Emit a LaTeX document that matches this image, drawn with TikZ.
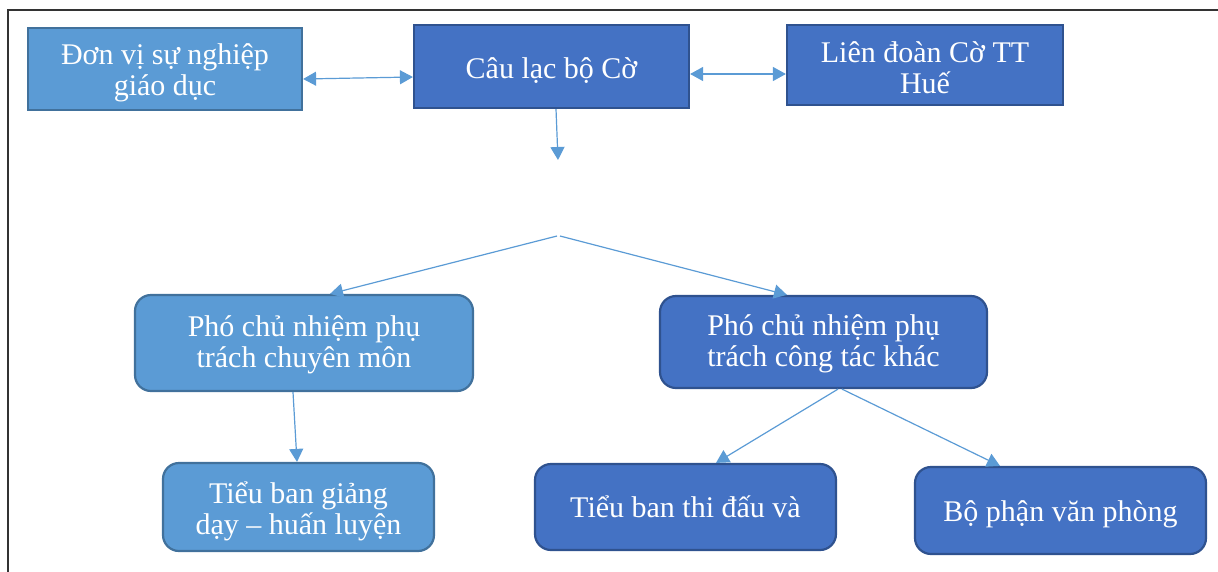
\documentclass[tikz,border=0pt]{standalone}
\usepackage{fontspec}
\setmainfont{Liberation Serif}
\usetikzlibrary{arrows.meta,calc}
\definecolor{lfill}{HTML}{5B9BD5}
\definecolor{lline}{HTML}{41719C}
\definecolor{dfill}{HTML}{4472C4}
\definecolor{dline}{HTML}{2F528F}
\definecolor{conncol}{HTML}{5B9BD5}
\definecolor{framecol}{HTML}{333333}
\tikzset{
  boxbase/.style={line width=2.2pt, inner sep=0pt},
  lbox/.style={boxbase, fill=lfill, draw=lline},
  dbox/.style={boxbase, fill=dfill, draw=dline},
  rbox/.style={rounded corners=16pt},
  txt/.style={text=white, align=center, inner sep=0pt, font=\fontsize{30}{31}\selectfont},
  conn/.style={draw=conncol, line width=1.2pt, -{Triangle[length=13pt,width=14pt]}},
  dconn/.style={draw=conncol, line width=1.2pt, {Triangle[length=13pt,width=14pt]}-{Triangle[length=13pt,width=14pt]}},
}
\begin{document}
\begin{tikzpicture}[x=1pt,y=-1pt]
\useasboundingbox (0,0) rectangle (1218,571);
\draw[framecol, line width=2pt] (8,575) -- (8,10) -- (1222,10);

\node[lbox, minimum width=274pt, minimum height=82pt] (a) at (165,69) {};
\node[txt] (a-t) at ($(a.center)+(0,4)$) {Đơn vị sự nghiệp\\giáo dục};
\node[dbox, minimum width=275pt, minimum height=83pt] (b) at (551.5,66.5) {};
\node[txt] (b-t) at ($(b.center)+(0,4)$) {Câu lạc bộ Cờ};
\node[dbox, minimum width=276pt, minimum height=80pt] (c) at (925,65) {};
\node[txt] (c-t) at ($(c.center)+(0,3)$) {Liên đoàn Cờ TT\\Huế};

\node[lbox, rbox, minimum width=338pt, minimum height=96pt] (p1) at (304,343) {};
\node[txt] (p1-t) at ($(p1.center)+(0,2)$) {Phó chủ nhiệm phụ\\trách chuyên môn};
\node[dbox, rbox, minimum width=327pt, minimum height=92pt] (p2) at (823.5,342) {};
\node[txt] (p2-t) at ($(p2.center)+(0,2)$) {Phó chủ nhiệm phụ\\trách công tác khác};

\node[lbox, rbox, minimum width=271pt, minimum height=88pt] (t1) at (298.5,507) {};
\node[txt] (t1-t) at ($(t1.center)+(0,4)$) {Tiểu ban giảng\\dạy – huấn luyện};
\node[dbox, rbox, minimum width=301pt, minimum height=86pt] (t2) at (685.5,507) {};
\node[txt] (t2-t) at ($(t2.center)+(0,0)$) {Tiểu ban thi đấu và};
\node[dbox, rbox, minimum width=291pt, minimum height=87pt] (t3) at (1060.5,510.5) {};
\node[txt] (t3-t) at ($(t3.center)+(0,4)$) {Bộ phận văn phòng};

\coordinate (bt) at (558,160);
\coordinate (spl) at (557,236);
\coordinate (spr) at (560,236);

\draw[dconn] ([yshift=-10pt]a.east) -- ([yshift=-10.5pt]b.west);
\draw[dconn] ([yshift=-7.5pt]b.east) -- ([yshift=-9pt]c.west);
\draw[conn] ([xshift=4.5pt]b.south) -- (bt);
\draw[conn] (spl) -- ([xshift=26pt]p1.north);
\draw[conn] (spr) -- ([xshift=-36.5pt]p2.north);
\draw[conn] ([xshift=-11pt]p1.south) -- ([xshift=-1.5pt]t1.north);
\draw[conn] ([xshift=14.5pt]p2.south) -- ([xshift=30.5pt]t2.north);
\draw[conn] ([xshift=18.5pt]p2.south) -- ([xshift=-60.5pt]t3.north);
\end{tikzpicture}
\end{document}
